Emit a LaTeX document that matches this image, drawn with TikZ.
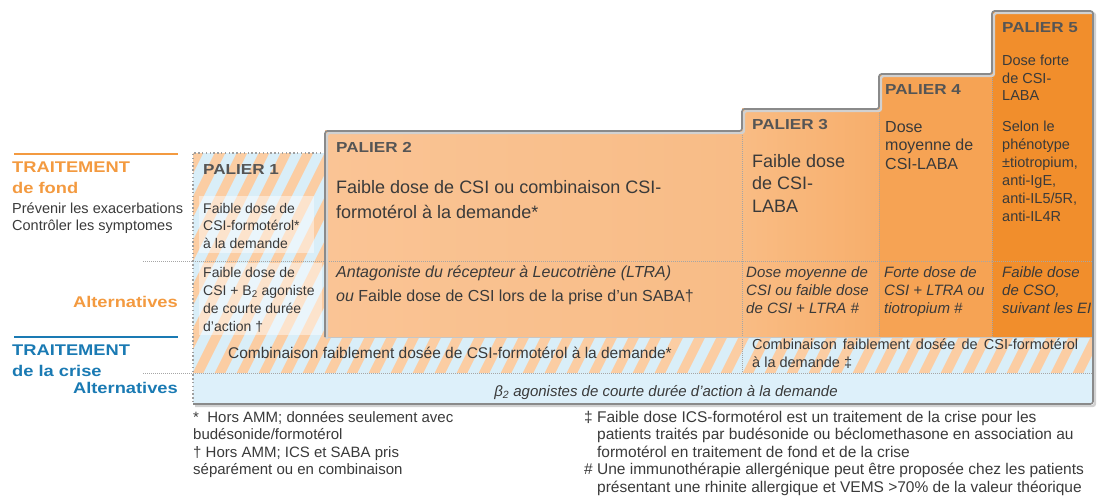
\documentclass[tikz,border=0pt]{standalone}
\usepackage{fontspec}
\setmainfont{Liberation Sans}
\newfontfamily\heavy{Liberation Sans}[FakeStretch=1.18]
\definecolor{txt}{HTML}{3A3A3A}
\definecolor{palc}{HTML}{555555}
\definecolor{orT}{HTML}{F39A40}
\definecolor{blT}{HTML}{1A7AB3}
\definecolor{pA}{HTML}{FAC495}
\definecolor{pAr}{HTML}{F8BC86}
\definecolor{pB}{HTML}{F9BC84}
\definecolor{pBr}{HTML}{F7AE6B}
\definecolor{pC}{HTML}{F6A354}
\definecolor{pD}{HTML}{F18E2C}
\definecolor{hOr}{HTML}{FBCDA3}
\definecolor{hBl}{HTML}{D9EEF8}
\definecolor{bRow}{HTML}{DDF0FA}
\definecolor{outl}{HTML}{8A8A8A}
\begin{document}
\begin{tikzpicture}[x=1pt,y=-1pt,
  lab/.style={inner sep=0pt, anchor=base west, align=left, text=txt},
  palstyle/.style={lab, text=palc, font=\fontsize{14.5}{17}\heavy\bfseries},
  headO/.style={lab, text=orT, font=\fontsize{15.5}{18}\heavy\bfseries},
  headB/.style={lab, text=blT, font=\fontsize{15.5}{18}\heavy\bfseries},
  dotline/.style={draw=gray!70, line width=0.7pt, dash pattern=on 0.7pt off 1.3pt},
  p1dots/.style={draw=gray!75, line width=1.4pt, dash pattern=on 1.4pt off 2.4pt},
  outline/.style={draw=outl, line width=1.6pt, rounded corners=2.5pt},
  shadowline/.style={draw=black!18, line width=2.4pt, rounded corners=2.5pt}
]
\useasboundingbox (0,0) rectangle (1097,500);
% fills of the steps
\shade[left color=pA, right color=pAr] (325,131) rectangle (742,337);
\shade[left color=pB, right color=pBr] (742,109) rectangle (879,337);
\fill[pC] (879,74) rectangle (992,337);
\fill[pD] (992,11) rectangle (1093,337);
% hatched areas
\begin{scope}
  \clip (193,153) rectangle (325,337) (193,337) rectangle (1093,373);
  \fill[hBl] (193,153) rectangle (1093,373);
  \foreach \i in {0,...,48}
    \draw[hOr, line width=9.5pt] ({60+\i*22},385) -- ++(120,-240);
\end{scope}
\fill[bRow] (193,373) rectangle (1093,404);
% light boxes behind palier 1 texts
\fill[white, opacity=0.45] (199,196) rectangle (314,253);
\fill[white, opacity=0.45] (199,263) rectangle (322,335);
% dotted separators
\draw[dotline] (143,261) -- (1093,261);
\draw[dotline] (143,373) -- (1093,373);
\draw[dotline] (742,131) -- (742,373);
\draw[dotline] (879,109) -- (879,337);
\draw[dotline] (992,74) -- (992,337);
\draw[draw=gray!45, line width=0.6pt] (325,337) -- (1093,337);
% palier 1 dotted frame
\draw[p1dots] (325,153) -- (193,153) -- (193,404);
% outline with shadow
\draw[shadowline, shift={(2,2)}] (325,337) -- (325,131) -- (742,131) -- (742,109) -- (879,109) -- (879,74) -- (992,74) -- (992,11) -- (1093,11) -- (1093,404) -- (193,404);
\draw[outline] (325,337) -- (325,131) -- (742,131) -- (742,109) -- (879,109) -- (879,74) -- (992,74) -- (992,11) -- (1093,11) -- (1093,404) -- (193,404);
% left labels
\draw[orT, line width=1.2pt] (14,154) -- (178,154);
\node[headO] (tf1) at (12,172) {TRAITEMENT};
\node[headO] (tf2) at (12,193) {de fond};
\node[lab, font=\fontsize{14.5}{17}\selectfont] (tf3) at (12,230) {Prévenir les exacerbations\\Contrôler les symptomes};
\node[headO, anchor=base east] (altO) at (178,307) {Alternatives};
\draw[blT, line width=1.2pt] (14,337) -- (178,337);
\node[headB] (tc1) at (12,355) {TRAITEMENT};
\node[headB] (tc2) at (12,376) {de la crise};
\node[headB, anchor=base east] (altB) at (178,393) {Alternatives};
% palier 1
\node[palstyle] (p1) at (203,174) {PALIER 1};
\node[lab, font=\fontsize{14}{17.5}\selectfont] (p1a) at (203,248) {Faible dose de\\CSI-formotérol*\\à la demande};
\node[lab, font=\fontsize{14}{18}\selectfont] (p1b) at (203,331) {Faible dose de\\CSI + B\textsubscript{2} agoniste\\de courte durée\\d'action †};
% palier 2
\node[palstyle] (p2) at (336,152) {PALIER 2};
\node[lab, font=\fontsize{18}{25}\selectfont] (p2a) at (336,218) {Faible dose de CSI ou combinaison CSI-\\formotérol à la demande*};
\node[lab, font=\fontsize{16}{24}\selectfont] (p2b) at (336,301) {\textit{Antagoniste du récepteur à Leucotriène (LTRA)}\\\textit{ou} Faible dose de CSI lors de la prise d'un SABA†};
% palier 3
\node[palstyle] (p3) at (752,130) {PALIER 3};
\node[lab, font=\fontsize{18}{22.5}\selectfont] (p3a) at (752,212) {Faible dose\\de CSI-\\LABA};
\node[lab, font=\fontsize{15}{18}\itshape] (p3b) at (746,313) {Dose moyenne de\\CSI ou faible dose\\de CSI + LTRA \#};
% palier 4
\node[palstyle] (p4) at (885,95) {PALIER 4};
\node[lab, font=\fontsize{16}{18.5}\selectfont] (p4a) at (885,169) {Dose\\moyenne de\\CSI-LABA};
\node[lab, font=\fontsize{15}{18}\itshape] (p4b) at (884,313) {Forte dose de\\CSI + LTRA ou\\tiotropium \#};
% palier 5
\node[palstyle] (p5) at (1002,33) {PALIER 5};
\node[lab, font=\fontsize{14.5}{17.5}\selectfont] (p5a) at (1002,101) {Dose forte\\de CSI-\\LABA};
\node[lab, font=\fontsize{14.5}{18}\selectfont] (p5b) at (1002,221) {Selon le\\phénotype\\±tiotropium,\\anti-IgE,\\anti-IL5/5R,\\anti-IL4R};
\node[lab, font=\fontsize{15}{18}\itshape] (p5c) at (1002,313) {Faible dose\\de CSO,\\suivant les EI};
% crisis rows
\node[lab, anchor=base, font=\fontsize{15.5}{18}\selectfont] (cr1) at (450,358) {Combinaison faiblement dosée de CSI-formotérol à la demande*};
\node[lab, font=\fontsize{14.5}{18}\selectfont] (cr2) at (752,367) {\makebox[326pt][s]{Combinaison faiblement dosée de CSI-formotérol}\\à la demande ‡};
\node[lab, anchor=base, font=\fontsize{15}{18}\itshape] (bl) at (666,396) {β\textsubscript{2} agonistes de courte durée d'action à la demande};
% footnotes
\node[lab, font=\fontsize{15}{17.5}\selectfont] (fnL) at (193,474.5) {*\ \ Hors AMM; données seulement avec\\budésonide/formotérol\\† Hors AMM; ICS et SABA pris\\séparément ou en combinaison};
\node[lab, font=\fontsize{15.5}{17.5}\selectfont] (fnR) at (584,422) {\begin{tabular}[t]{@{}l@{\ }l@{}}
‡ & Faible dose ICS-formotérol est un traitement de la crise pour les\\
 & patients traités par budésonide ou béclomethasone en association au\\
 & formotérol en traitement de fond et de la crise\\
\# & Une immunothérapie allergénique peut être proposée chez les patients\\
 & présentant une rhinite allergique et VEMS >70\% de la valeur théorique
\end{tabular}};
\end{tikzpicture}
\end{document}
